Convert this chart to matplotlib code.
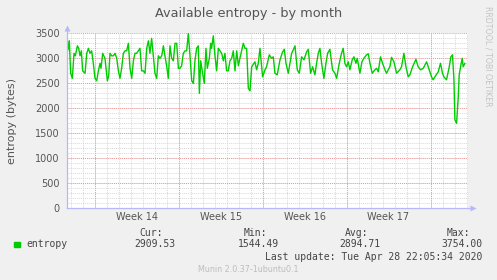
import numpy as np
import matplotlib.pyplot as plt

# data start here
# time in days from the left edge of the graph, and available entropy in bytes
day = [0.0, 0.14, 0.22, 0.33, 0.47, 0.61, 0.72, 0.89, 1.0, 1.11,
       1.22, 1.33, 1.53, 1.67, 1.81, 1.94, 2.08, 2.22, 2.36, 2.5,
       2.64, 2.78, 2.86, 3.0, 3.19, 3.39, 3.5, 3.61, 3.75, 3.89,
       4.03, 4.17, 4.31, 4.44, 4.58, 4.72, 4.86, 5.0, 5.14, 5.28,
       5.42, 5.56, 5.69, 5.83, 5.97, 6.11, 6.25, 6.39, 6.53, 6.67,
       6.81, 6.94, 7.08, 7.22, 7.36, 7.5, 7.64, 7.78, 7.92, 8.06,
       8.19, 8.33, 8.47, 8.61, 8.75, 8.89, 9.03, 9.17, 9.31, 9.44,
       9.58, 9.72, 9.86, 10.0, 10.14, 10.28, 10.42, 10.56, 10.69, 10.83,
       10.97, 11.06, 11.17, 11.33, 11.47, 11.61, 11.72, 11.89, 12.0, 12.08,
       12.22, 12.36, 12.5, 12.64, 12.78, 12.92, 13.06, 13.19, 13.33, 13.47,
       13.61, 13.75, 13.89, 14.03, 14.17, 14.31, 14.44, 14.72, 14.86, 15.0,
       15.14, 15.28, 15.42, 15.69, 15.83, 15.97, 16.11, 16.33, 16.53, 16.66,
       16.89, 17.08, 17.22, 17.36, 17.55, 17.78, 18.0, 18.14, 18.28, 18.47,
       18.75, 18.89, 19.03, 19.22, 19.39, 19.58, 19.78, 20.0, 20.14, 20.33,
       20.5, 20.69, 20.83, 20.97, 21.11, 21.25, 21.44, 21.61, 21.75, 21.94,
       22.16, 22.36, 22.5, 22.72, 22.91, 23.05, 23.19, 23.33, 23.47, 23.61,
       23.8, 23.94, 24.11, 24.22, 24.44, 24.61, 24.77, 25.0, 25.14, 25.28,
       25.47, 25.69, 25.83, 25.97, 26.16, 26.33, 26.53, 26.66, 26.8, 26.94,
       27.08, 27.28, 27.5, 27.77, 27.91, 28.11, 28.28, 28.47, 28.61, 28.83,
       29.11, 29.3, 29.5, 29.72, 30.0, 30.14, 30.41, 30.55, 30.69, 30.97,
       31.16, 31.33, 31.44, 31.66, 31.89, 32.02, 32.16, 32.28, 32.36, 32.5,
       32.64, 32.72, 32.86, 32.97, 33.05, 33.19]

entropy = [3100, 3200, 3350, 2700, 2600, 3100, 3050, 3250, 3200, 3050,
           3150, 2750, 2700, 3100, 3200, 3100, 3150, 2900, 2600, 2550,
           2750, 2900, 2800, 3100, 3000, 2550, 2650, 3100, 3050, 3050,
           3100, 3000, 2750, 2600, 2800, 3100, 3150, 3150, 3300, 2800,
           2600, 2950, 3100, 3100, 3150, 3200, 2750, 2750, 2700, 3200,
           3350, 3100, 3400, 3050, 2700, 2600, 3050, 3000, 3050, 3250,
           3050, 2850, 2600, 3250, 3000, 2950, 3300, 3300, 2800, 2800,
           2850, 3100, 3150, 3150, 3500, 3050, 2550, 2500, 2950, 3200,
           3250, 2300, 2950, 2700, 2500, 3200, 2800, 3000, 3300, 3200,
           3450, 3050, 2750, 3200, 3150, 3100, 2950, 3100, 2750, 2750,
           2950, 3000, 3150, 2750, 3150, 2850, 3000, 3300, 3200, 3200,
           2400, 2350, 2830, 2930, 2770, 2900, 3200, 2630, 2770, 2830,
           3070, 3000, 3030, 2700, 2670, 2970, 3130, 3180, 2900, 2700,
           3100, 3170, 3250, 2770, 2700, 3030, 2970, 3130, 3180, 2700,
           2830, 2670, 2900, 3100, 3200, 2900, 2600, 2900, 3100, 3180,
           2770, 2700, 2600, 2900, 3100, 3200, 2900, 2830, 2930, 2770,
           2970, 3030, 2900, 3000, 2700, 2930, 3000, 3070, 3090, 2900,
           2700, 2770, 2800, 2730, 3030, 2900, 2770, 2700, 2770, 2830,
           3020, 2930, 2700, 2770, 2830, 3100, 2830, 2630, 2670, 2830,
           2980, 2830, 2770, 2800, 2930, 2830, 2630, 2570, 2630, 2730,
           2900, 2700, 2630, 2570, 2830, 3030, 3070, 2570, 1770, 1700,
           2230, 2670, 2870, 3000, 2830, 2900]

# week boundaries (days from the left edge) and labels
week_start = [2.33, 9.33, 16.33, 23.33, 30.33]
week_labels = ['Week 14', 'Week 15', 'Week 16', 'Week 17']
span_days = 33.45

stat_names = ['Cur:', 'Min:', 'Avg:', 'Max:']
stat_values = ['2909.53', '1544.49', '2894.71', '3754.00']
# data end here

fig = plt.figure(figsize=(4.97, 2.80), dpi=100, facecolor='#f0f0f0')
ax = fig.add_axes([0.1342, 0.256, 0.8074, 0.625], facecolor='white')

ax.set_xlim(0, span_days)
ax.set_ylim(0, 3500)

# minor grid: every day and every 100 bytes
minor_dot = (0, (1, 1))
for x in np.arange(week_start[0] % 1, span_days, 1.0):
    ax.axvline(x, color='#d8d8d8', lw=0.7, ls=minor_dot, zorder=1)
for y in np.arange(100, 3500, 100):
    ax.axhline(y, color='#d8d8d8', lw=0.7, ls=minor_dot, zorder=1)

# major grid: weeks and every 500 bytes
for x in week_start:
    ax.axvline(x, color='#f09898', lw=0.7, ls=minor_dot, zorder=2)
for y in np.arange(500, 3501, 500):
    ax.axhline(y, color='#f09898', lw=0.7, ls=minor_dot, zorder=2)

ax.plot(day, entropy, color='#00cc00', lw=1.0, zorder=4)

# axes with little arrows, rrdtool style
axis_col = '#b8b8f8'
ax.plot([0, 1.012], [0, 0], transform=ax.transAxes, color=axis_col,
        lw=0.9, clip_on=False, zorder=5)
ax.plot([0, 0], [0, 1.03], transform=ax.transAxes, color=axis_col,
        lw=0.9, clip_on=False, zorder=5)
ax.plot(1.012, 0, marker='>', ms=4, color=axis_col, mec='none',
        transform=ax.transAxes, clip_on=False, zorder=5)
ax.plot(0, 1.03, marker='^', ms=4, color=axis_col, mec='none',
        transform=ax.transAxes, clip_on=False, zorder=5)

for s in ax.spines.values():
    s.set_visible(False)

mids = [(a + b) / 2 for a, b in zip(week_start[:-1], week_start[1:])]
ax.set_xticks(mids)
ax.set_xticklabels(week_labels)
ax.set_yticks(np.arange(0, 3501, 500))
ax.tick_params(length=0, labelsize=7, labelcolor='#555555')
ax.tick_params(axis='y', pad=5)
ax.tick_params(axis='x', pad=3)

ax.set_ylabel('entropy (bytes)', fontsize=8, color='#555555')
ax.yaxis.set_label_coords(-0.125, 0.5)

fig.text(0.5, 0.953, 'Available entropy - by month', ha='center',
         va='center', fontsize=9.3, color='#555555')
fig.text(0.981, 0.80, 'RRDTOOL / TOBI OETIKER', rotation=270, ha='center',
         va='center', fontsize=5.7, color='#c4c4c4')

# legend block
mono = 'DejaVu Sans Mono'
fig.patches.append(plt.Rectangle((14 / 497, 1 - 247 / 280), 5.5 / 497,
                                 5.5 / 280, transform=fig.transFigure,
                                 color='#00cc00', figure=fig))
fig.text(26 / 497, 0.1275, 'entropy', family=mono, fontsize=7,
         color='#444444', va='center')
name_right = [163.3, 266.7, 368.3, 470.0]
value_right = [175.7, 278.7, 380.7, 482.7]
for n, v, xn, xv in zip(stat_names, stat_values, name_right, value_right):
    fig.text(xn / 497, 0.169, n, family=mono, fontsize=7, color='#444444',
             ha='right', va='center')
    fig.text(xv / 497, 0.1275, v, family=mono, fontsize=7, color='#444444',
             ha='right', va='center')
fig.text(482.7 / 497, 0.083, 'Last update: Tue Apr 28 22:05:34 2020',
         family=mono, fontsize=7, color='#444444', ha='right', va='center')
fig.text(0.4985, 0.038, 'Munin 2.0.37-1ubuntu0.1', ha='center',
         va='center', fontsize=5.8, color='#bdbdbd')

fig.savefig('out.png', dpi=100, facecolor=fig.get_facecolor())
